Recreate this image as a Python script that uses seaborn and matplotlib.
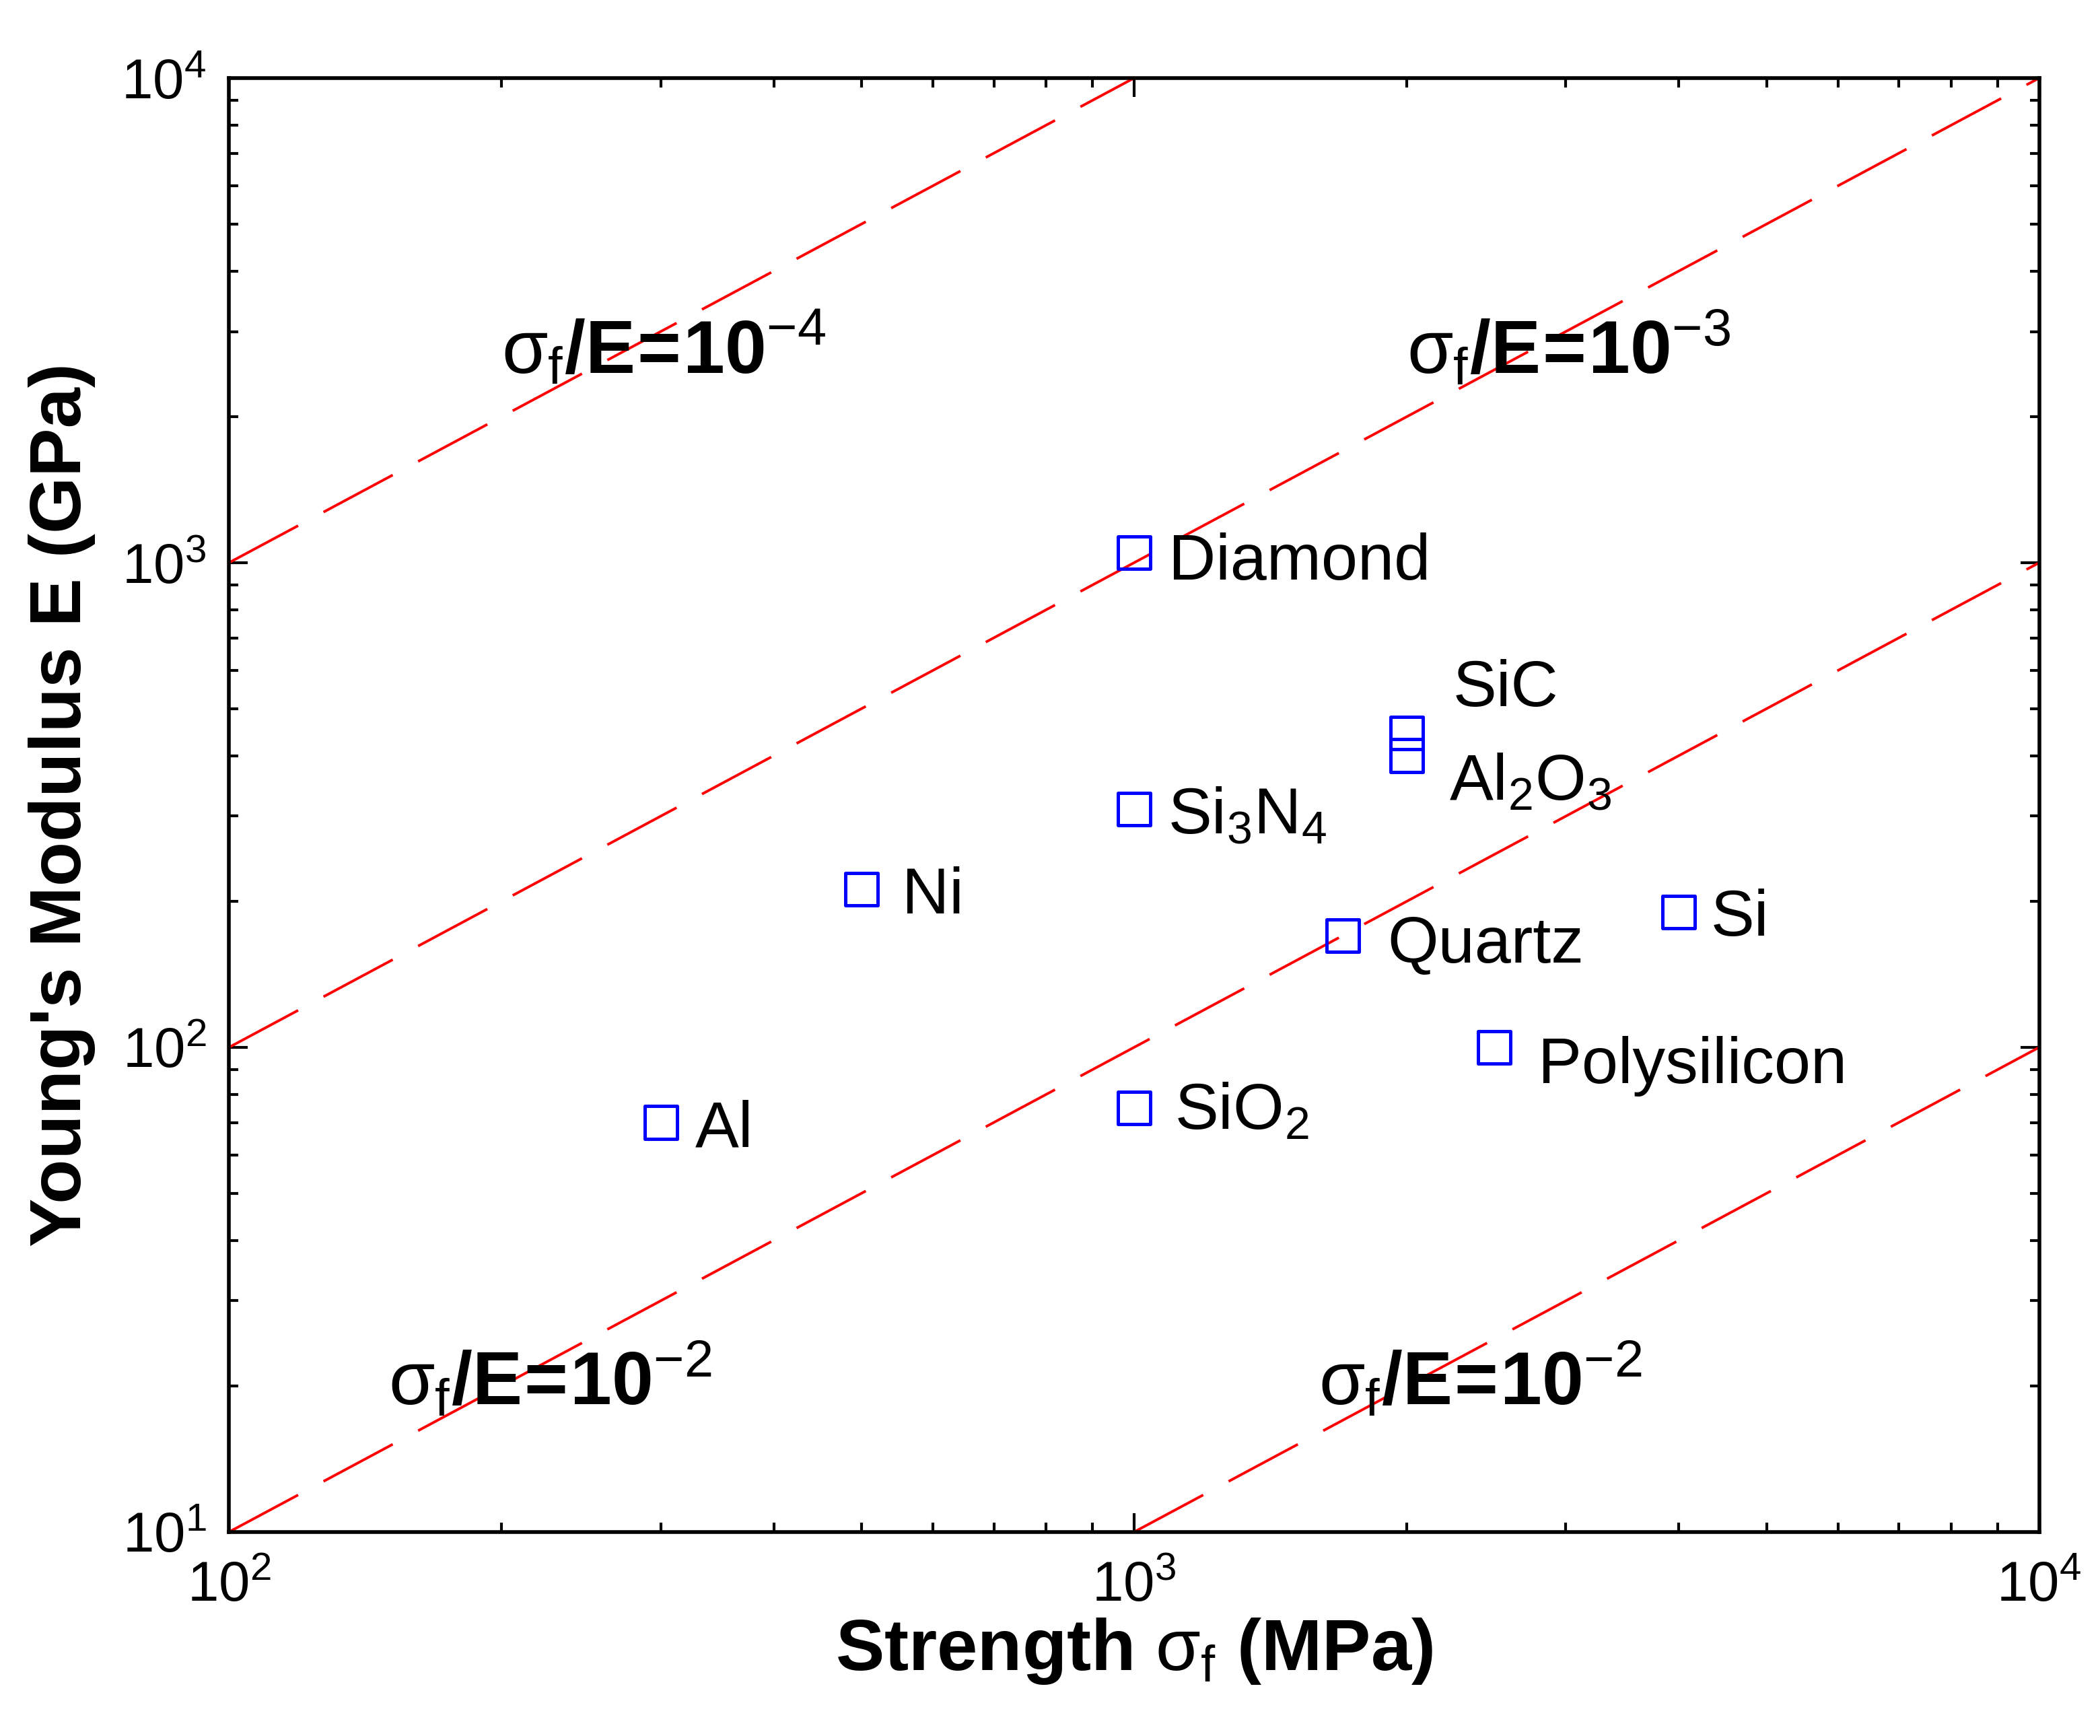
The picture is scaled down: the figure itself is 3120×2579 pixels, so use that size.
import matplotlib
matplotlib.use("Agg")
import matplotlib.pyplot as plt
import seaborn as sns
from matplotlib.ticker import LogLocator

# Material data (strength in MPa, Young's modulus in GPa)
materials = ["Diamond", "SiC", "Al$_2$O$_3$", "Si$_3$N$_4$", "Ni", "Quartz",
             "Si", "Polysilicon", "SiO$_2$", "Al"]
strength = [1000, 2000, 2000, 1000, 500, 1700, 4000, 2500, 1000, 300]
modulus = [1050, 445, 400, 310, 212, 170, 190, 100, 75, 70]

# constant sigma_f/E guide lines (end points)
guide_x = [[100, 1000], [100, 10000], [100, 10000], [1000, 10000]]
guide_y = [[1000, 10000], [100, 10000], [10, 1000], [10, 100]]
guide_labels = [r"$\sigma_f\mathbf{/E\!=\!10}^{-4}$", r"$\sigma_f\mathbf{/E\!=\!10}^{-3}$",
                r"$\sigma_f\mathbf{/E\!=\!10}^{-2}$", r"$\sigma_f\mathbf{/E\!=\!10}^{-2}$"]
guide_label_pos = [(200, 2750), (2000, 2750), (150, 20.5), (1600, 20.5)]

# label offsets in points (dx, dy of text baseline relative to marker)
label_offsets = [(18.5, -14.5), (25, 14.5), (23, -23.5), (18, -13), (21.5, -13),
                 (24, -14.5), (17, -12.5), (23.5, -19), (21.5, -11.5), (18.5, -13)]

sns.set_style("ticks")
plt.rcParams["font.family"] = ["Liberation Sans", "DejaVu Sans"]
plt.rcParams["mathtext.fontset"] = "custom"
plt.rcParams["mathtext.rm"] = "Liberation Sans"
plt.rcParams["mathtext.it"] = "Liberation Sans"
plt.rcParams["mathtext.bf"] = "Liberation Sans:bold"
for key in ["text.color", "axes.labelcolor", "xtick.color", "ytick.color", "axes.edgecolor"]:
    plt.rcParams[key] = "black"

fig = plt.figure(figsize=(15.6, 12.895), dpi=200)
ax = fig.add_axes([0.109, 0.1175, 0.862, 0.8375])
ax.set_xscale("log")
ax.set_yscale("log")

for gx, gy in zip(guide_x, guide_y):
    sns.lineplot(x=gx, y=gy, color="red", linewidth=1.4,
                 linestyle=(0, (30, 11)), ax=ax)

sns.scatterplot(x=strength, y=modulus, marker="s", s=300, facecolor="none",
                edgecolor="blue", linewidth=1.8, ax=ax, zorder=5)

for name, xs, ys, (dx, dy) in zip(materials, strength, modulus, label_offsets):
    ax.annotate(name, (xs, ys), xytext=(dx, dy), textcoords="offset points",
                fontsize=35, va="baseline", ha="left", color="black")

for lab, (lx, ly) in zip(guide_labels, guide_label_pos):
    ax.text(lx, ly, lab, fontsize=40, va="center", ha="left", color="black")

ax.set_xlim(100, 10000)
ax.set_ylim(10, 10000)
ax.xaxis.set_major_locator(LogLocator(base=10, numticks=10))
ax.yaxis.set_major_locator(LogLocator(base=10, numticks=10))

ax.tick_params(which="both", direction="in", top=True, right=True,
               width=1.5, labelsize=30)
ax.tick_params(axis="x", which="both", pad=15)
ax.tick_params(axis="y", which="both", pad=12)
ax.tick_params(which="major", length=10)
ax.tick_params(which="minor", length=5)
for sp in ax.spines.values():
    sp.set_linewidth(2)
    sp.set_color("black")

ax.set_xlabel(r"$\mathbf{Strength}\ \sigma_f\ \mathbf{(MPa)}$", fontsize=39, labelpad=2)
ax.set_ylabel("Young's Modulus E (GPa)", fontsize=39, fontweight="bold", labelpad=14)

fig.savefig("out.png", dpi=200, facecolor="white")
